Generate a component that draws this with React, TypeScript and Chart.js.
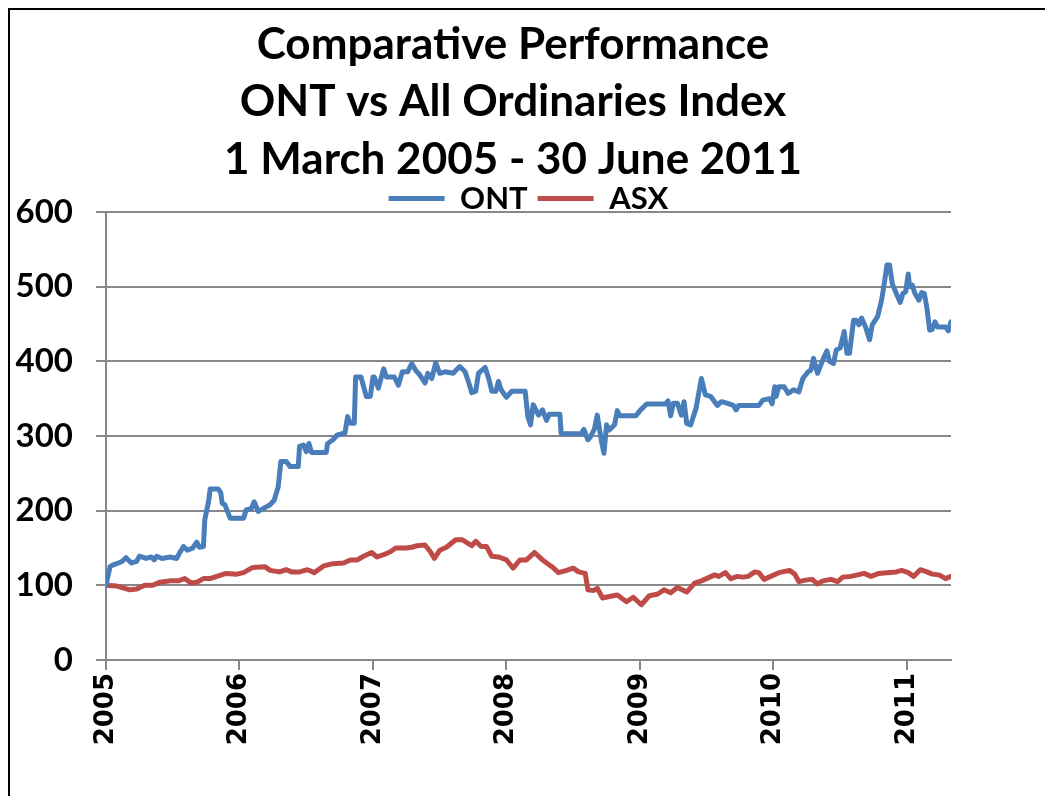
import React, { useEffect, useRef } from 'react';
import { Chart, registerables } from 'chart.js';

Chart.register(...registerables);

const titleLines = ['Comparative Performance', 'ONT vs All Ordinaries Index', '1 March 2005 - 30 June 2011'];
const seriesNames = ['ONT', 'ASX'];
const yearLabels = ['2005', '2006', '2007', '2008', '2009', '2010', '2011'];

// time in years since 1 March 2005
const ontT = [
  0, 0.03, 0.05, 0.08, 0.12, 0.15, 0.19, 0.23, 0.25, 0.30, 0.34, 0.36, 0.38, 0.42, 0.48, 0.53, 0.55, 0.58, 0.61, 0.65,
  0.68, 0.70, 0.73, 0.74, 0.77, 0.78, 0.84, 0.86, 0.87, 0.89, 0.93, 1.03, 1.05, 1.09, 1.11, 1.14, 1.18, 1.23, 1.26, 1.29,
  1.31, 1.35, 1.38, 1.44, 1.45, 1.48, 1.50, 1.52, 1.54, 1.65, 1.66, 1.70, 1.73, 1.79, 1.81, 1.83, 1.86, 1.87, 1.91, 1.95,
  1.98, 2.00, 2.01, 2.04, 2.08, 2.10, 2.16, 2.19, 2.22, 2.26, 2.29, 2.32, 2.35, 2.39, 2.41, 2.44, 2.47, 2.50, 2.54, 2.60,
  2.65, 2.69, 2.72, 2.74, 2.77, 2.79, 2.84, 2.87, 2.89, 2.92, 2.94, 2.96, 3.00, 3.04, 3.14, 3.16, 3.18, 3.20, 3.24, 3.27,
  3.30, 3.32, 3.40, 3.41, 3.56, 3.58, 3.61, 3.63, 3.66, 3.68, 3.70, 3.71, 3.73, 3.75, 3.77, 3.81, 3.83, 3.85, 3.97, 4.00,
  4.05, 4.19, 4.21, 4.23, 4.25, 4.28, 4.31, 4.33, 4.35, 4.38, 4.42, 4.46, 4.49, 4.53, 4.58, 4.61, 4.65, 4.70, 4.72, 4.74,
  4.89, 4.92, 4.97, 4.99, 5.01, 5.02, 5.04, 5.08, 5.11, 5.15, 5.19, 5.22, 5.26, 5.28, 5.30, 5.33, 5.37, 5.40, 5.42, 5.45,
  5.47, 5.50, 5.53, 5.55, 5.57, 5.60, 5.62, 5.64, 5.66, 5.69, 5.72, 5.74, 5.78, 5.81, 5.83, 5.85, 5.87, 5.89, 5.92, 5.95,
  5.97, 5.99, 6.01, 6.02, 6.04, 6.06, 6.09, 6.11, 6.13, 6.15, 6.17, 6.19, 6.21, 6.23, 6.29, 6.31, 6.33,
];
const ontV = [
  100, 125, 127, 129, 132, 137, 130, 132, 139, 136, 138, 134, 139, 136, 138, 136, 143, 152, 147, 150,
  158, 151, 152, 188, 214, 229, 229, 224, 210, 208, 190, 190, 201, 203, 212, 199, 203, 208, 214, 232,
  266, 266, 259, 259, 286, 288, 279, 290, 278, 278, 290, 295, 301, 304, 326, 317, 317, 379, 379, 353,
  353, 379, 379, 364, 390, 379, 379, 368, 386, 386, 397, 388, 382, 371, 384, 377, 398, 384, 386, 384,
  393, 386, 370, 358, 360, 384, 392, 375, 360, 360, 373, 362, 352, 360, 360, 326, 315, 342, 328, 335,
  321, 329, 329, 303, 303, 309, 295, 299, 310, 328, 306, 295, 277, 315, 308, 315, 334, 327, 327, 334,
  343, 343, 347, 327, 344, 344, 328, 346, 317, 315, 337, 377, 355, 353, 341, 346, 344, 341, 335, 341,
  341, 348, 350, 343, 366, 353, 366, 366, 357, 362, 359, 377, 386, 388, 404, 384, 402, 414, 400, 397,
  415, 418, 440, 411, 411, 455, 455, 449, 458, 446, 429, 449, 460, 482, 504, 529, 529, 504, 491, 479,
  491, 493, 517, 500, 502, 491, 482, 492, 491, 471, 442, 443, 453, 446, 446, 441, 453,
];

const asxT = [
  0, 0.08, 0.12, 0.18, 0.23, 0.29, 0.35, 0.40, 0.48, 0.54, 0.59, 0.64, 0.68, 0.73, 0.78, 0.83, 0.90, 0.98, 1.03, 1.10,
  1.19, 1.23, 1.30, 1.35, 1.39, 1.45, 1.51, 1.56, 1.63, 1.70, 1.78, 1.83, 1.88, 1.93, 1.99, 2.03, 2.08, 2.13, 2.17, 2.25,
  2.29, 2.33, 2.39, 2.43, 2.46, 2.50, 2.55, 2.62, 2.67, 2.74, 2.77, 2.81, 2.85, 2.89, 2.94, 3.00, 3.05, 3.10, 3.15, 3.21,
  3.27, 3.34, 3.39, 3.45, 3.50, 3.54, 3.59, 3.61, 3.65, 3.68, 3.72, 3.77, 3.83, 3.90, 3.95, 4.01, 4.07, 4.13, 4.18, 4.23,
  4.28, 4.35, 4.41, 4.46, 4.51, 4.56, 4.59, 4.64, 4.68, 4.73, 4.77, 4.81, 4.86, 4.89, 4.93, 4.98, 5.04, 5.12, 5.16, 5.19,
  5.24, 5.29, 5.33, 5.37, 5.43, 5.48, 5.52, 5.58, 5.63, 5.68, 5.73, 5.79, 5.85, 5.92, 5.96, 6.01, 6.05, 6.10, 6.15, 6.19,
  6.24, 6.29, 6.33,
];
const asxV = [
  100, 99, 97, 94, 95, 100, 100, 104, 106, 106, 109, 103, 104, 109, 109, 112, 116, 115, 117, 124,
  125, 120, 118, 121, 118, 118, 121, 117, 126, 129, 130, 134, 134, 139, 144, 138, 141, 145, 150, 150,
  151, 153, 154, 145, 136, 147, 151, 161, 161, 153, 159, 152, 152, 139, 138, 134, 123, 134, 134, 144,
  134, 125, 117, 120, 123, 118, 116, 94, 93, 96, 83, 85, 87, 78, 84, 74, 86, 88, 94, 90,
  97, 91, 103, 106, 110, 114, 112, 117, 109, 112, 111, 112, 118, 117, 108, 112, 117, 120, 115, 105,
  107, 108, 102, 106, 108, 105, 111, 112, 114, 116, 112, 116, 117, 118, 120, 117, 112, 121, 118, 115,
  114, 109, 112,
];

const BLUE = '#4A7EBB';
const RED = '#BE4B48';
const GRID = '#888888';

export default function App() {
  const ref = useRef<HTMLCanvasElement>(null);

  useEffect(() => {
    const canvas = ref.current;
    if (!canvas) return;
    const chart = new Chart(canvas, {
      type: 'line',
      data: {
        datasets: [
          {
            label: seriesNames[0],
            data: ontT.map((t, i) => ({ x: t, y: ontV[i] })),
            borderColor: BLUE,
            backgroundColor: BLUE,
            borderWidth: 5,
            pointRadius: 0,
            tension: 0,
            borderJoinStyle: 'round',
            borderCapStyle: 'round',
          },
          {
            label: seriesNames[1],
            data: asxT.map((t, i) => ({ x: t, y: asxV[i] })),
            borderColor: RED,
            backgroundColor: RED,
            borderWidth: 5,
            pointRadius: 0,
            tension: 0,
            borderJoinStyle: 'round',
            borderCapStyle: 'round',
          },
        ],
      },
      options: {
        animation: false,
        responsive: false,
        layout: { padding: { left: 0, right: 37, top: 0, bottom: 0 } },
        plugins: {
          title: {
            display: true,
            text: titleLines,
            color: '#000',
            font: { family: 'Lato', weight: 'bold', size: 44, lineHeight: 1.307 },
            padding: { top: 6, bottom: -15.5 },
          },
          legend: {
            position: 'top',
            fullSize: false,
            maxHeight: 39,
            labels: {
              usePointStyle: true,
              pointStyle: 'line',
              pointStyleWidth: 56,
              color: '#000',
              font: { family: 'Lato', weight: 'bold', size: 31 },
              padding: 10,
            },
          },
          tooltip: { enabled: false },
        },
        scales: {
          x: {
            type: 'linear',
            min: 0,
            max: 6.33,
            afterBuildTicks: (s: any) => {
              s.ticks = s.ticks.filter((t: any) => Number.isInteger(t.value));
            },
            afterFit: (s: any) => {
              s.height = 136;
            },
            ticks: {
              stepSize: 1,
              includeBounds: false,
              autoSkip: false,
              minRotation: 90,
              maxRotation: 90,
              padding: 3,
              color: '#000',
              font: { family: 'DejaVu Sans', weight: 'bold', size: 26 },
              callback: (v: any) => yearLabels[v] ?? '',
            },
            grid: { drawOnChartArea: false, drawTicks: true, tickLength: 10, color: GRID, lineWidth: 2 },
            border: { color: GRID, width: 2 },
          },
          y: {
            min: 0,
            max: 600,
            afterFit: (s: any) => {
              s.width = 96;
            },
            ticks: {
              stepSize: 100,
              padding: 23,
              color: '#000',
              font: { family: 'Lato', weight: 'bold', size: 33 },
            },
            grid: { color: GRID, lineWidth: 2, tickLength: 10 },
            border: { color: GRID, width: 2 },
          },
          y2: {
            type: 'linear',
            position: 'right',
            display: true,
            afterFit: (s: any) => {
              s.width = 65;
            },
            grid: { display: false },
            ticks: { display: false },
            border: { display: false },
          },
        },
      },
    } as any);
    return () => chart.destroy();
  }, []);

  return (
    <div
      style={{
        width: 1043,
        height: 786,
        borderTop: '2px solid #000',
        borderLeft: '2px solid #000',
        background: '#fff',
      }}
    >
      <canvas ref={ref} width={1043} height={786} style={{ display: 'block' }} />
    </div>
  );
}
